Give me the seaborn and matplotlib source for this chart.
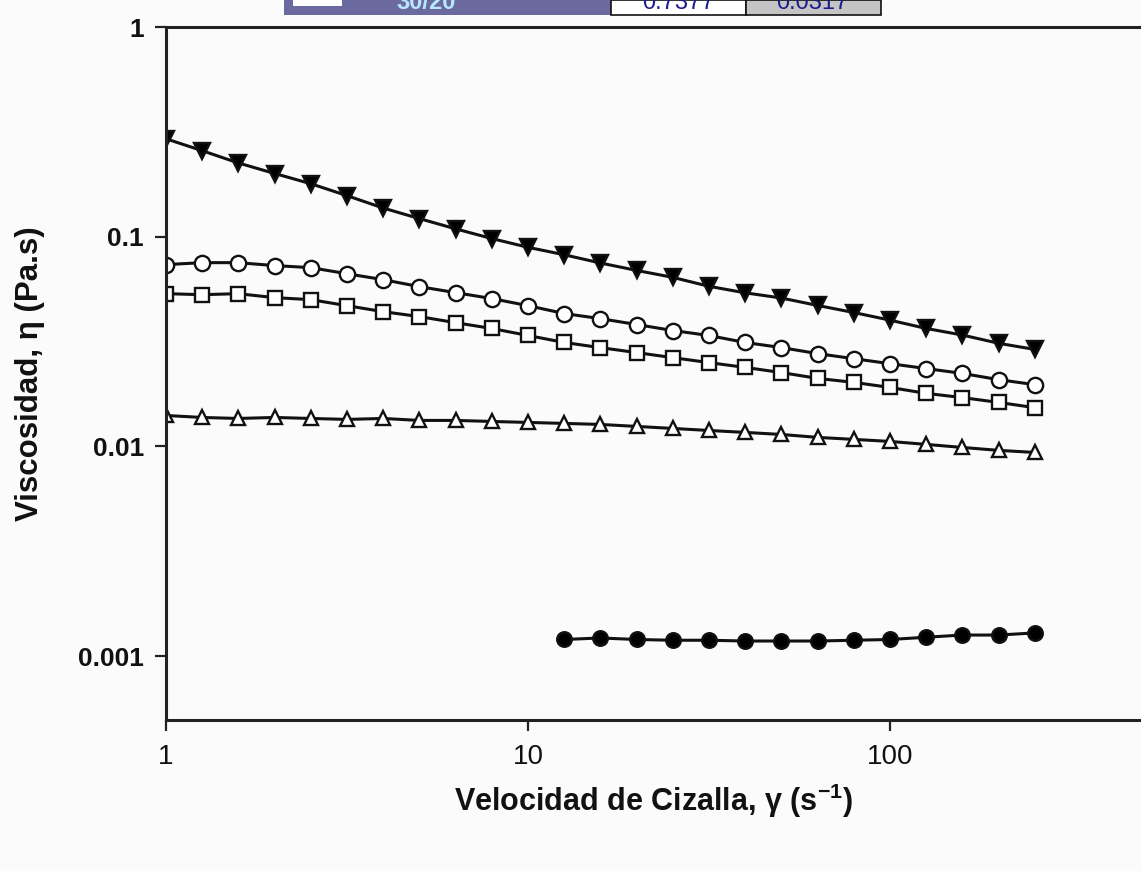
import numpy as np
import pandas as pd
import matplotlib
matplotlib.use("Agg")
import matplotlib.pyplot as plt
from matplotlib.patches import Rectangle
import seaborn as sns

# Shear rate (1/s), 10 points per decade
shear_rate = [1.00, 1.26, 1.58, 2.00, 2.51, 3.16, 3.98, 5.01, 6.31, 7.94,
              10.0, 12.6, 15.8, 20.0, 25.1, 31.6, 39.8, 50.1, 63.1, 79.4,
              100.0, 126.0, 158.0, 200.0, 251.0]
shear_rate_water = shear_rate[11:]

# Viscosity (Pa.s) for each sample
visc_tri_down = [0.293, 0.257, 0.225, 0.200, 0.179, 0.157, 0.137, 0.122, 0.109, 0.098,
                 0.089, 0.082, 0.075, 0.069, 0.064, 0.058, 0.054, 0.051, 0.047, 0.0435,
                 0.040, 0.0365, 0.034, 0.031, 0.029]
visc_circle = [0.0736, 0.0752, 0.0752, 0.0728, 0.0712, 0.0666, 0.0624, 0.0578, 0.0541, 0.0507,
               0.0469, 0.0430, 0.0407, 0.0381, 0.0357, 0.0338, 0.0313, 0.0296, 0.0277, 0.0262,
               0.0248, 0.0235, 0.0223, 0.0208, 0.0197]
visc_square = [0.0535, 0.0529, 0.0535, 0.0512, 0.0501, 0.0469, 0.0439, 0.0416, 0.0389, 0.0365,
               0.0338, 0.0313, 0.0296, 0.0280, 0.0265, 0.0251, 0.0238, 0.0225, 0.0211, 0.0202,
               0.0191, 0.0179, 0.0171, 0.0162, 0.0153]
visc_tri_up = [0.01404, 0.01374, 0.01359, 0.01374, 0.01359, 0.01345, 0.01359, 0.01330, 0.01330, 0.01315,
               0.01301, 0.01287, 0.01273, 0.01245, 0.01218, 0.01191, 0.01166, 0.01140, 0.01104, 0.01080,
               0.01056, 0.01022, 0.00989, 0.00957, 0.00936]
visc_water = [0.00120, 0.00122, 0.00120, 0.00119, 0.00119, 0.00118, 0.00118, 0.00118, 0.00119, 0.00120,
              0.00123, 0.00126, 0.00126, 0.00129]

y_ticks = [1, 0.1, 0.01, 0.001]
y_tick_labels = ["1", "0.1", "0.01", "0.001"]
x_ticks = [1, 10, 100]
x_tick_labels = ["1", "10", "100"]

sns.set_style("ticks")
plt.rcParams["font.family"] = ["Liberation Sans", "DejaVu Sans"]
plt.rcParams["mathtext.fontset"] = "custom"
plt.rcParams["mathtext.rm"] = "Liberation Sans:bold"
plt.rcParams["mathtext.it"] = "Liberation Sans:bold"

W, H = 1141, 871
fig = plt.figure(figsize=(W / 100, H / 100), dpi=100, facecolor="#fbfbfb")


def fx(px):
    return px / W


def fy(py):
    return 1 - py / H


ax = fig.add_axes([fx(166), fy(720), 1 - fx(166), (720 - 27) / H])
ax.set_facecolor("#fbfbfb")

series = [
    (shear_rate, visc_tri_down, "v", "black", 11.5),
    (shear_rate, visc_circle, "o", "white", 11),
    (shear_rate, visc_square, "s", "white", 9.5),
    (shear_rate, visc_tri_up, "^", "white", 10.5),
    (shear_rate_water, visc_water, "o", "black", 10.5),
]
for xs, ys, mk, face, ms in series:
    df = pd.DataFrame({"x": xs, "y": ys})
    sns.lineplot(data=df, x="x", y="y", ax=ax, color="#111111", lw=2.2,
                 marker=mk, markersize=ms, markerfacecolor=face,
                 markeredgecolor="#111111", markeredgewidth=1.7,
                 sort=False, legend=False)

ax.set_xscale("log")
ax.set_yscale("log")
ax.set_xlim(1, 10 ** ((W - 166) / 362))
ax.set_ylim(10 ** ((236 - 720) / 210 - 1), 1.0)

ax.set_xticks(x_ticks)
ax.set_xticklabels(x_tick_labels, fontsize=20)
ax.set_yticks(y_ticks)
ax.set_yticklabels(y_tick_labels, fontweight="bold", fontsize=19)
ax.xaxis.set_minor_locator(matplotlib.ticker.NullLocator())
ax.yaxis.set_minor_locator(matplotlib.ticker.NullLocator())
ax.tick_params(axis="both", direction="out", length=8, width=1.6,
               color="#222222", labelcolor="#111111")
ax.tick_params(axis="x", pad=9)
ax.tick_params(axis="y", pad=8)

for side in ["left", "bottom", "top"]:
    ax.spines[side].set_visible(True)
    ax.spines[side].set_linewidth(2.2)
    ax.spines[side].set_color("#222222")
ax.spines["right"].set_visible(False)

ax.set_xlabel(r"Velocidad de Cizalla, γ (s$^{-1}$)", fontsize=22,
              fontweight="bold", color="#111111", labelpad=9)
ax.set_ylabel("Viscosidad, η (Pa.s)", fontsize=22.5, fontweight="bold",
              color="#111111", labelpad=24)

# Table strip along the top edge of the page
band_h = 15
fig.add_artist(Rectangle((fx(284), fy(band_h)), fx(611) - fx(284), band_h / H,
                         transform=fig.transFigure, facecolor="#6a6a9e",
                         edgecolor="none"))
fig.add_artist(Rectangle((fx(293), fy(6)), fx(342) - fx(293), 6 / H,
                         transform=fig.transFigure, facecolor="white",
                         edgecolor="none"))
fig.add_artist(Rectangle((fx(611), fy(band_h)), fx(746) - fx(611), band_h / H,
                         transform=fig.transFigure, facecolor="white",
                         edgecolor="#111111", linewidth=1.2))
fig.add_artist(Rectangle((fx(746), fy(band_h)), fx(881) - fx(746), band_h / H,
                         transform=fig.transFigure, facecolor="#c4c4c4",
                         edgecolor="#111111", linewidth=1.2))
fig.text(fx(426), fy(9), "30/20", color="#b8e6ff", fontsize=17,
         fontweight="bold", ha="center", va="baseline")
fig.text(fx(678), fy(9), "0.7377", color="#1b1b8a", fontsize=17,
         ha="center", va="baseline")
fig.text(fx(812), fy(9), "0.0317", color="#1b1b8a", fontsize=17,
         ha="center", va="baseline")

fig.savefig("out.png", dpi=100, facecolor=fig.get_facecolor())
